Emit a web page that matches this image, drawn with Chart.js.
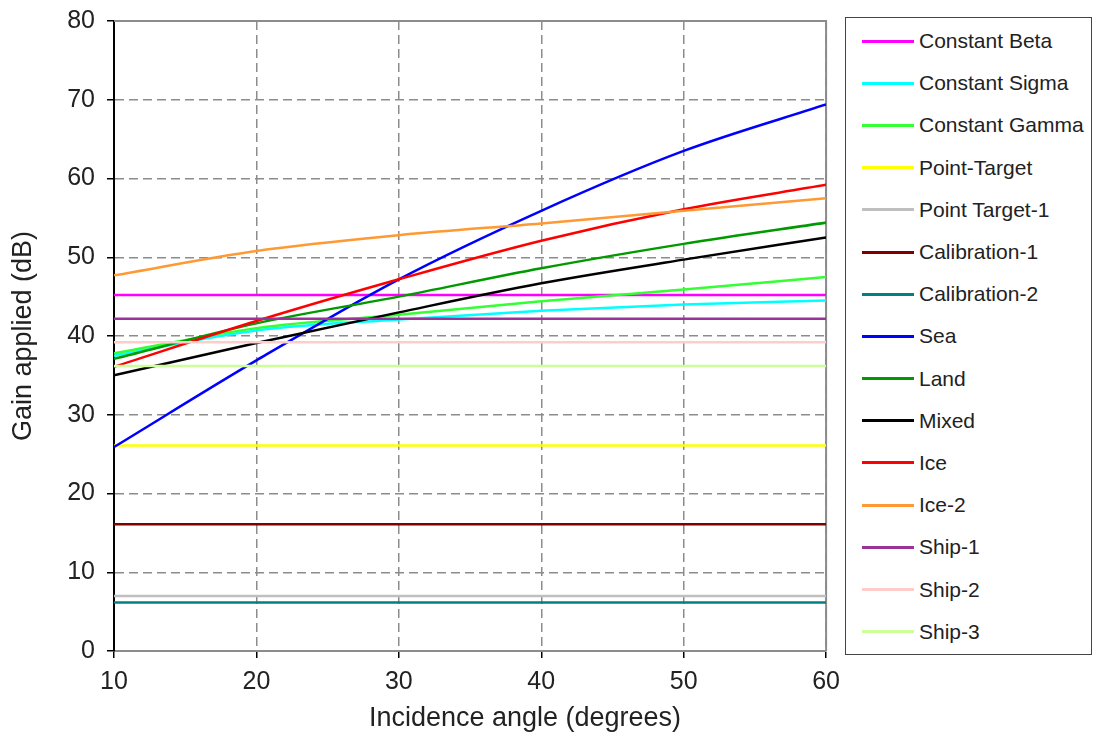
<!DOCTYPE html>
<html>
<head>
<meta charset="utf-8">
<script src="https://cdn.jsdelivr.net/npm/chart.js@4/dist/chart.umd.min.js"></script>
<style>
  body { margin: 0; background: #fff; font-family: "Liberation Sans", Arial, sans-serif; overflow: hidden; }
  #wrap { position: relative; width: 1093px; height: 736px; overflow: hidden; }
  #plot { position: absolute; left: 0; top: -6px; width: 849px; height: 742px; }
  #legend { position: absolute; left: 845px; top: 17px; width: 247px; height: 638px; border: 1px solid #444; padding-top: 2px; box-sizing: border-box; background: #fff; }
  .item { display: flex; align-items: center; height: 42.2px; color: #222; font-size: 21px; }
  .swatch { width: 52px; height: 3px; margin-left: 16px; margin-right: 5px; }
  #xtitle { position: absolute; left: 325px; width: 400px; top: 702px; text-align: center; font-size: 27px; color: #222; }
</style>
</head>
<body>
<div id="wrap">
  <div id="plot"><canvas id="grafico"></canvas></div>
  <div id="legend"></div>
  <div id="xtitle">Incidence angle (degrees)</div>
</div>
<script>
// dados
var angles = [10, 20, 30, 40, 50, 60];

var seriesNames = ["Constant Beta", "Constant Sigma", "Constant Gamma", "Point-Target", "Point Target-1",
  "Calibration-1", "Calibration-2", "Sea", "Land", "Mixed", "Ice", "Ice-2", "Ship-1", "Ship-2", "Ship-3"];

var seriesColors = ["#ff00ff", "#00ffff", "#33ff33", "#ffff00", "#bfbfbf",
  "#800000", "#008080", "#0000ff", "#009900", "#000000", "#ff0000", "#ff9933", "#993399", "#ffcccc", "#ccff99"];

var constantBeta  = [45.2, 45.2, 45.2, 45.2, 45.2, 45.2];
var constantSigma = [37.5, 40.7, 42.1, 43.2, 44.0, 44.5];
var constantGamma = [37.8, 41.0, 42.7, 44.4, 45.9, 47.5];
var pointTarget   = [26.1, 26.1, 26.1, 26.1, 26.1, 26.1];
var pointTarget1  = [7.0, 7.0, 7.0, 7.0, 7.0, 7.0];
var calibration1  = [16.1, 16.1, 16.1, 16.1, 16.1, 16.1];
var calibration2  = [6.15, 6.15, 6.15, 6.15, 6.15, 6.15];
var sea           = [25.9, 36.9, 47.2, 55.9, 63.5, 69.4];
var land          = [37.1, 41.6, 45.0, 48.6, 51.7, 54.4];
var mixed         = [35.0, 39.1, 43.0, 46.7, 49.7, 52.5];
var ice           = [36.1, 41.9, 47.2, 52.1, 56.1, 59.2];
var ice2          = [47.7, 50.8, 52.8, 54.3, 55.9, 57.5];
var ship1         = [42.2, 42.2, 42.2, 42.2, 42.2, 42.2];
var ship2         = [39.2, 39.2, 39.2, 39.2, 39.2, 39.2];
var ship3         = [36.2, 36.2, 36.2, 36.2, 36.2, 36.2];

var xTicks = [10, 20, 30, 40, 50, 60];
var yTicks = [0, 10, 20, 30, 40, 50, 60, 70, 80];

var allSeries = [constantBeta, constantSigma, constantGamma, pointTarget, pointTarget1,
  calibration1, calibration2, sea, land, mixed, ice, ice2, ship1, ship2, ship3];

var datasets = [];
for (var i = 0; i < allSeries.length; i++) {
  var pts = [];
  for (var j = 0; j < angles.length; j++) {
    pts.push({x: angles[j], y: allSeries[i][j]});
  }
  datasets.push({
    label: seriesNames[i],
    data: pts,
    borderColor: seriesColors[i],
    backgroundColor: 'transparent',
    borderWidth: 2.5,
    pointRadius: 0,
    cubicInterpolationMode: 'monotone',
    order: allSeries.length - i
  });
}

// legenda
var leg = document.getElementById("legend");
for (var k = 0; k < seriesNames.length; k++) {
  var row = document.createElement("div");
  row.className = "item";
  row.innerHTML = '<span class="swatch" style="background:' + seriesColors[k] + '"></span><span>' + seriesNames[k] + '</span>';
  leg.appendChild(row);
}

// moldura cinza da area do grafico
var moldura = {
  id: 'moldura',
  beforeDatasetsDraw: function(chart) {
    var a = chart.chartArea, c = chart.ctx;
    c.save();
    c.strokeStyle = '#8c8c8c';
    c.lineWidth = 2;
    c.beginPath();
    c.moveTo(a.left, a.top);
    c.lineTo(a.right, a.top);
    c.lineTo(a.right, a.bottom);
    c.stroke();
    c.restore();
  }
};

var ctx = document.getElementById("grafico");

var myLineChart = new Chart(ctx, {
  type: 'line',
  data: { datasets: datasets },
  plugins: [moldura],
  options: {
    responsive: true,
    maintainAspectRatio: false,
    animation: false,
    layout: { padding: { top: 14, right: 15, left: 0, bottom: 0 } },
    plugins: { legend: { display: false }, tooltip: { enabled: false } },
    scales: {
      x: {
        type: 'linear',
        min: 10, max: 60,
        afterBuildTicks: function(s) { s.ticks = xTicks.map(function(v) { return {value: v}; }); },
        afterFit: function(s) { s.height = 85; },
        ticks: { color: '#222', font: { family: 'Liberation Sans', size: 25 }, padding: 9 },
        grid: { color: '#8c8c8c', lineWidth: 1.5, tickLength: 7, tickColor: '#000', tickWidth: 1.5, tickBorderDash: [] },
        border: { color: '#8c8c8c', width: 2, dash: [9, 5] }
      },
      y: {
        min: 0, max: 80,
        afterBuildTicks: function(s) { s.ticks = yTicks.map(function(v) { return {value: v}; }); },
        afterFit: function(s) { s.width = 114; },
        ticks: { color: '#222', font: { family: 'Liberation Sans', size: 25 }, padding: 12 },
        grid: { color: '#8c8c8c', lineWidth: 1.5, tickLength: 7, tickColor: '#000', tickWidth: 1.5, tickBorderDash: [] },
        border: { color: '#000', width: 2, dash: [9, 5] },
        title: { display: true, text: 'Gain applied (dB)', color: '#222', font: { family: 'Liberation Sans', size: 27 }, padding: { top: 7, bottom: 0 } }
      }
    }
  }
});
</script>
</body>
</html>
